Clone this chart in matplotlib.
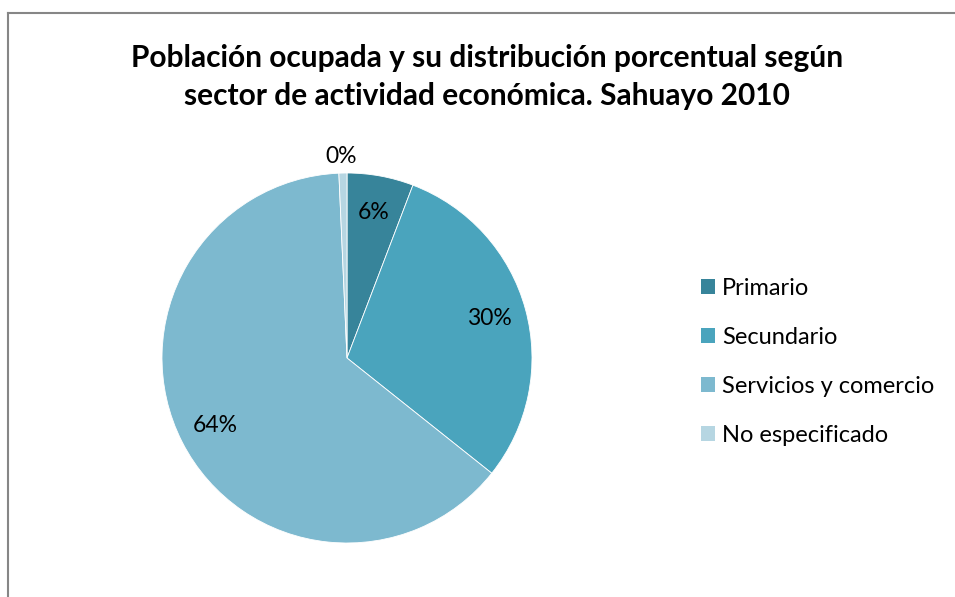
import matplotlib
matplotlib.use("Agg")
import matplotlib.pyplot as plt
from matplotlib.patches import Patch
from matplotlib.lines import Line2D
import numpy as np

categories = ["Primario", "Secundario", "Servicios y comercio", "No especificado"]
values = [5.8, 29.9, 63.6, 0.7]
labels_pct = ["6%", "30%", "64%", "0%"]
colors = ["#37849A", "#4AA4BD", "#7DB9CF", "#B6D6E2"]
title = "Población ocupada y su distribución porcentual según\nsector de actividad económica. Sahuayo 2010"

plt.rcParams['font.family'] = ['Lato', 'DejaVu Sans']

W, H = 955, 597
fig = plt.figure(figsize=(W/100, H/100), dpi=100)

# border (left and top edges only visible)
fig.add_artist(Line2D([8/W, 8/W], [0, 1 - 13/H], transform=fig.transFigure,
                      color="#868686", linewidth=1.5))
fig.add_artist(Line2D([8/W, 1], [1 - 13/H, 1 - 13/H], transform=fig.transFigure,
                      color="#868686", linewidth=1.5))

cx, cy, r = 347, 358, 185
ax = fig.add_axes([(cx-r)/W, (H-cy-r)/H, 2*r/W, 2*r/H])
wedges, _ = ax.pie(values, colors=colors, startangle=90, counterclock=False,
                   wedgeprops=dict(edgecolor="white", linewidth=0.6))
ax.set_xlim(-1, 1)
ax.set_ylim(-1, 1)

for i, w in enumerate(wedges):
    ang = np.deg2rad((w.theta1 + w.theta2) / 2)
    d = 0.8 if values[i] > 2 else 1.09
    x, y = d*np.cos(ang), d*np.sin(ang)
    if values[i] <= 2:
        x = -0.03
    ax.text(x, y, labels_pct[i], ha="center", va="center", fontsize=16.5, color="black")

fig.text(487/W, 1 - 77/H, title, ha="center", va="center", fontsize=21.5,
         fontweight="bold", linespacing=1.45)

handles = [Patch(facecolor=c, edgecolor="none") for c in colors]
leg = fig.legend(handles, categories, loc="center left", bbox_to_anchor=(701/W, 1 - 362/H),
                 frameon=False, fontsize=17, handlelength=0.6, handleheight=0.6,
                 handletextpad=0.3, labelspacing=1.18, borderpad=0, borderaxespad=0)

fig.savefig("out.png", dpi=100)
